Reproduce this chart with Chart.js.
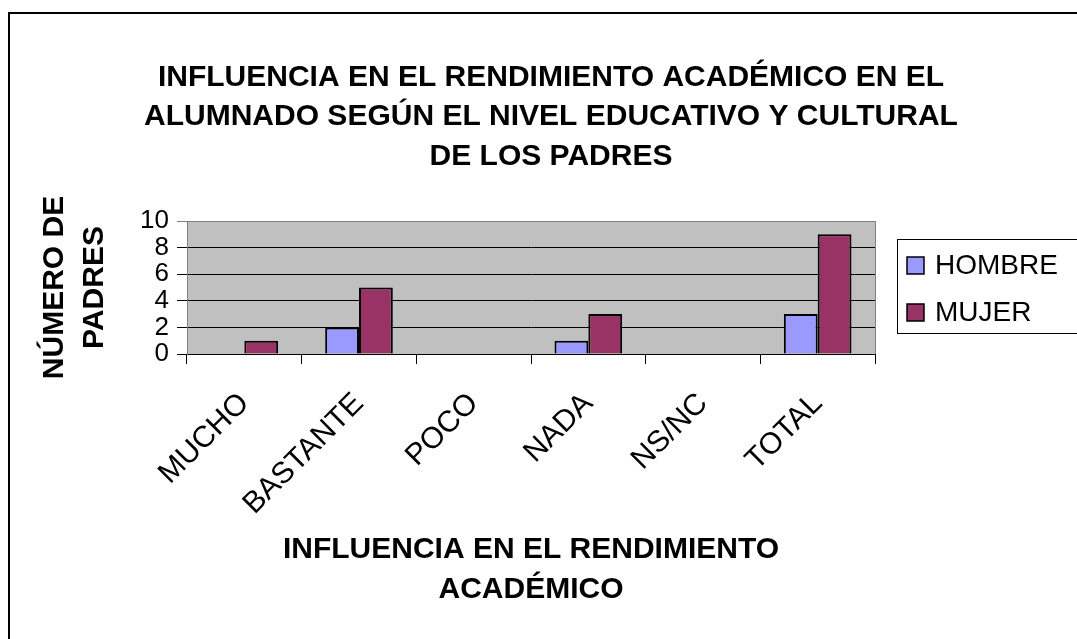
<!DOCTYPE html>
<html>
<head>
<meta charset="utf-8">
<script src="https://cdn.jsdelivr.net/npm/chart.js@4.4.1/dist/chart.umd.min.js"></script>
<style>
  html, body { margin: 0; padding: 0; background: #fff; }
  canvas { display: block; }
</style>
</head>
<body>
<canvas id="chart" width="1077" height="639"></canvas>
<script>
// Data
const categories = ['MUCHO', 'BASTANTE', 'POCO', 'NADA', 'NS/NC', 'TOTAL'];
const hombre = [0, 2, 0, 1, 0, 3];
const mujer = [1, 5, 0, 3, 0, 9];
const seriesNames = ['HOMBRE', 'MUJER'];
const yTicks = [0, 2, 4, 6, 8, 10];

const titleLines = [
    'INFLUENCIA EN EL RENDIMIENTO ACADÉMICO EN EL',
    'ALUMNADO SEGÚN EL NIVEL EDUCATIVO Y CULTURAL',
    'DE LOS PADRES'
];
const yTitle = ['NÚMERO DE', 'PADRES'];
const xTitle = ['INFLUENCIA EN EL RENDIMIENTO', 'ACADÉMICO'];

Chart.defaults.font.family = "'Liberation Sans', Arial, sans-serif";
Chart.defaults.color = '#000';

/**
 * Reserves room on the right for the legend and draws it (boxed, like Excel)
 */
const legendBoxPlugin = {
    id: 'legendBox',
    beforeInit: function(chart) {
        Chart.layouts.addBox(chart, {
            position: 'right',
            weight: 1000,
            fullSize: false,
            options: {},
            width: 0,
            height: 0,
            isHorizontal: function() { return false; },
            update: function(maxWidth, maxHeight) {
                this.width = 202;
                this.height = maxHeight;
            },
            draw: function() {}
        });
    },
    afterDraw: function(chart) {
        const ctx = chart.ctx;
        const area = chart.chartArea;
        const left = area.right + 22;
        const top = area.top + 18;
        ctx.save();
        ctx.strokeStyle = '#000';
        ctx.lineWidth = 1;
        ctx.strokeRect(left + 0.5, top + 0.5, 300, 94);
        ctx.font = "28px 'Liberation Sans', Arial, sans-serif";
        ctx.textBaseline = 'middle';
        chart.data.datasets.forEach(function(ds, i) {
            const cy = top + 26 + i * 47;
            ctx.fillStyle = ds.backgroundColor;
            ctx.fillRect(left + 10, cy - 8, 17, 17);
            ctx.strokeStyle = '#000';
            ctx.lineWidth = 1.5;
            ctx.strokeRect(left + 10, cy - 8, 17, 17);
            ctx.fillStyle = '#000';
            ctx.fillText(ds.label, left + 38, cy + 1);
        });
        ctx.restore();
    }
};

/**
 * Grey plot area and the outer frame
 */
const backgroundPlugin = {
    id: 'plotBackground',
    beforeDraw: function(chart) {
        const ctx = chart.ctx;
        const a = chart.chartArea;
        ctx.save();
        ctx.fillStyle = '#fff';
        ctx.fillRect(0, 0, chart.width, chart.height);
        ctx.strokeStyle = '#000';
        ctx.lineWidth = 2;
        ctx.strokeRect(9, 13, chart.width + 20, chart.height + 20);
        ctx.fillStyle = '#C0C0C0';
        ctx.fillRect(a.left, a.top, a.right - a.left, a.bottom - a.top);
        ctx.strokeStyle = '#808080';
        ctx.lineWidth = 1;
        ctx.strokeRect(a.left + 0.5, a.top + 0.5, a.right - a.left, a.bottom - a.top);
        ctx.restore();
    }
};

new Chart(document.getElementById('chart'), {
    type: 'bar',
    data: {
        labels: categories,
        datasets: [
            {
                label: seriesNames[0],
                data: hombre,
                backgroundColor: '#9999FF',
                borderColor: '#000',
                borderWidth: 2
            },
            {
                label: seriesNames[1],
                data: mujer,
                backgroundColor: '#993366',
                borderColor: '#000',
                borderWidth: 2
            }
        ]
    },
    plugins: [backgroundPlugin, legendBoxPlugin],
    options: {
        responsive: false,
        animation: false,
        datasets: {
            bar: {
                categoryPercentage: 0.59,
                barPercentage: 1.0
            }
        },
        layout: {
            padding: { left: 25, right: 0, top: 0, bottom: 0 }
        },
        plugins: {
            legend: { display: false },
            tooltip: { enabled: false },
            title: {
                display: true,
                text: titleLines,
                font: { size: 30, weight: 'bold', lineHeight: 39.5 / 30 },
                padding: { top: 57.5, bottom: 45 }
            }
        },
        scales: {
            x: {
                grid: {
                    display: true,
                    drawOnChartArea: false,
                    drawTicks: true,
                    tickLength: 10,
                    color: '#000',
                    offset: true
                },
                border: { display: true, color: '#000', width: 1 },
                ticks: {
                    font: { size: 30 },
                    minRotation: 45,
                    maxRotation: 45,
                    padding: 22,
                    autoSkip: false
                },
                title: {
                    display: true,
                    text: xTitle,
                    font: { size: 30, weight: 'bold', lineHeight: 40 / 30 },
                    padding: { top: 0, bottom: 29 }
                },
                afterFit: function(scale) {
                    scale.height = 285;
                }
            },
            y: {
                min: 0,
                max: 10,
                afterBuildTicks: function(scale) {
                    scale.ticks = yTicks.map(function(v) { return { value: v }; });
                },
                grid: {
                    color: function(c) {
                        return c.tick && c.tick.value === 10 ? '#808080' : '#000';
                    },
                    lineWidth: 1,
                    tickLength: 10
                },
                border: { display: true, color: '#808080', width: 1 },
                ticks: {
                    font: { size: 26 },
                    padding: 8,
                    autoSkip: false
                },
                title: {
                    display: true,
                    text: yTitle,
                    font: { size: 30, weight: 'bold', lineHeight: 40 / 30 },
                    padding: { top: 10, bottom: 0 }
                },
                afterFit: function(scale) {
                    scale.width = 162;
                }
            }
        }
    }
});
</script>
</body>
</html>
